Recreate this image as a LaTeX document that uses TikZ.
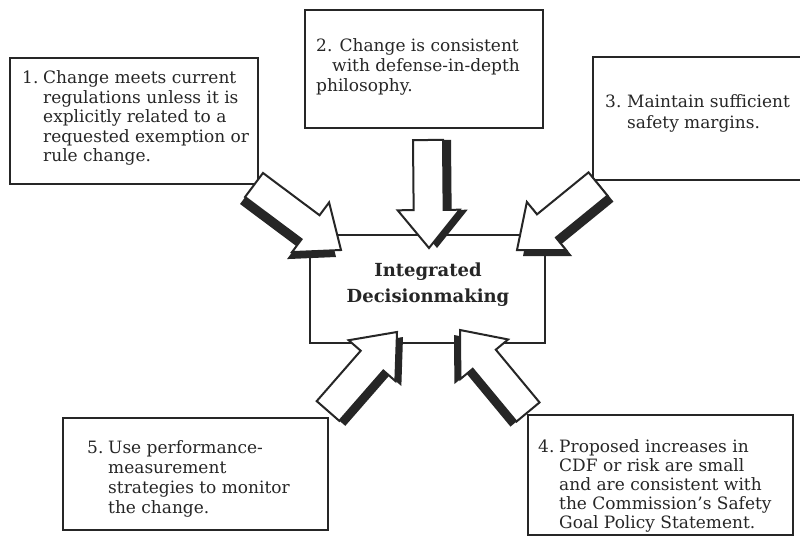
\documentclass[tikz,border=0pt]{standalone}
\usepackage{fontspec}
\setmainfont{DejaVu Serif}
\usetikzlibrary{calc}
\newcommand\txtlines[2]{\vtop{\baselineskip=#1\lineskiplimit=-20pt\lineskip=0pt
  \halign{##\hfil\cr #2\crcr}}}
\newcommand\blockarrow[3]{%
  \coordinate (ab) at ($(#2)!38pt!(#1)$);
  \fill[arrowshade, transform canvas={shift={#3}}]
    ($(#1)!15pt!90:(#2)$) -- ($(ab)!15pt!90:(#2)$) -- ($(ab)!31pt!90:(#2)$) -- (#2)
    -- ($(ab)!31pt!-90:(#2)$) -- ($(ab)!15pt!-90:(#2)$) -- ($(#1)!15pt!-90:(#2)$) -- cycle;
  \filldraw[arrowbody]
    ($(#1)!15pt!90:(#2)$) -- ($(ab)!15pt!90:(#2)$) -- ($(ab)!31pt!90:(#2)$) -- (#2)
    -- ($(ab)!31pt!-90:(#2)$) -- ($(ab)!15pt!-90:(#2)$) -- ($(#1)!15pt!-90:(#2)$) -- cycle;
}
\begin{document}
\begin{tikzpicture}[x=1pt,y=-1pt,
  box/.style={draw=black!85, line width=2.6pt, fill=white, inner sep=0pt},
  txt/.style={anchor=base west, inner sep=0pt,
    font=\fontsize{17}{20}\selectfont, text=black!85},
  title/.style={inner sep=0pt, align=center,
    font=\bfseries\fontsize{18}{26}\selectfont, text=black!85},
  arrowshade/.style={fill=black!85},
  arrowbody/.style={fill=white, draw=black!85, line width=2pt, line join=miter}]
\clip (0,0) rectangle (800,540);
\fill[white] (0,0) rectangle (800,540);
% boxes
\node[box, minimum width=248pt, minimum height=126pt] (b1) at (134,121) {};
\node[box, minimum width=238pt, minimum height=118pt] (b2) at (424,69) {};
\node[box, minimum width=222pt, minimum height=123pt] (b3) at (704,118.5) {};
\node[box, minimum width=235pt, minimum height=108pt] (c) at (427.5,289) {};
\node[box, minimum width=265pt, minimum height=112pt] (b5) at (195.5,474) {};
\node[box, minimum width=265pt, minimum height=120pt] (b4) at (660.5,475) {};
% texts
\node[txt] (t1) at (22,84) {\txtlines{19.5pt}{\makebox[21pt][l]{1.}Change meets current\cr
  \hspace*{21pt}regulations unless it is\cr
  \hspace*{21pt}explicitly related to a\cr
  \hspace*{21pt}requested exemption or\cr
  \hspace*{21pt}rule change.}};
\node[txt] (t2) at (316,52) {\txtlines{20pt}{2. Change is consistent\cr
  \hspace*{16pt}with defense-in-depth\cr
  philosophy.}};
\node[txt] (t3) at (605,108) {\txtlines{21pt}{\makebox[22pt][l]{3.}Maintain sufficient\cr
  \hspace*{22pt}safety margins.}};
\node[txt] (t5) at (87,453) {\txtlines{20pt}{\makebox[21pt][l]{5.}Use performance-\cr
  \hspace*{21pt}measurement\cr
  \hspace*{21pt}strategies to monitor\cr
  \hspace*{21pt}the change.}};
\node[txt] (t4) at (538,452) {\txtlines{19pt}{\makebox[21pt][l]{4.}Proposed increases in\cr
  \hspace*{21pt}CDF or risk are small\cr
  \hspace*{21pt}and are consistent with\cr
  \hspace*{21pt}the Commission's Safety\cr
  \hspace*{21pt}Goal Policy Statement.}};
\node[title] (ct) at (428,285) {Integrated\\Decisionmaking};
% arrow anchors
\coordinate (a1t) at (254,185); \coordinate (a1h) at (341,250);
\coordinate (a2t) at (428,140); \coordinate (a2h) at (429,248);
\coordinate (a3t) at (598,184); \coordinate (a3h) at (517,250);
\coordinate (a5t) at (328,411); \coordinate (a5h) at (397,332);
\coordinate (a4t) at (528,412); \coordinate (a4h) at (460,330);
\blockarrow{a1t}{a1h}{(-5,7)}
\blockarrow{a2t}{a2h}{(8,0)}
\blockarrow{a3t}{a3h}{(6,6)}
\blockarrow{a5t}{a5h}{(6,5)}
\blockarrow{a4t}{a4h}{(-6,5)}
\end{tikzpicture}
\end{document}
